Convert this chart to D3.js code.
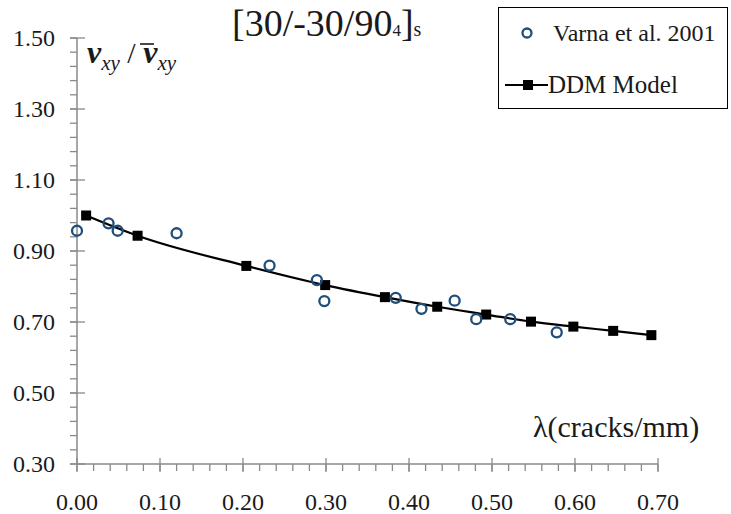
<!DOCTYPE html>
<html><head><meta charset="utf-8">
<script src="https://cdn.jsdelivr.net/npm/d3@7"></script>
<style>body{margin:0;background:#fff}svg{display:block}</style>
</head><body><svg id="c" width="731" height="514" font-family="'Liberation Serif', 'Times New Roman', Times, 'DejaVu Serif', serif"></svg>
<script>
// Data
const xTicks = [0.00, 0.10, 0.20, 0.30, 0.40, 0.50, 0.60, 0.70];
const yTicks = [0.30, 0.50, 0.70, 0.90, 1.10, 1.30, 1.50];
const varnaX = [0.000, 0.038, 0.049, 0.120, 0.232, 0.289, 0.298, 0.384, 0.415, 0.455, 0.481, 0.522, 0.578];
const varnaY = [0.957, 0.978, 0.957, 0.950, 0.859, 0.818, 0.759, 0.768, 0.737, 0.760, 0.708, 0.708, 0.671];
const ddmX = [0.011, 0.073, 0.204, 0.299, 0.371, 0.434, 0.493, 0.547, 0.598, 0.646, 0.692];
const ddmY = [1.000, 0.943, 0.858, 0.804, 0.770, 0.743, 0.721, 0.701, 0.687, 0.675, 0.663];
const seriesNames = ["Varna et al. 2001", "DDM Model"];

const svg = d3.select("#c");
const txtCol = "#1a1a1a";
const x = d3.scaleLinear().domain([0, 0.7]).range([77, 658]);
const y = d3.scaleLinear().domain([0.3, 1.5]).range([464, 38]);
const axisCol = "#8a8a8a";

// Y axis
const gy = svg.append("g");
gy.append("line").attr("x1", x(0)).attr("x2", x(0)).attr("y1", y(0.3)).attr("y2", y(1.5))
  .attr("stroke", axisCol).attr("stroke-width", 1.5);
const yMinor = d3.range(0.30, 1.5001, 0.04);
gy.selectAll(".ym").data(yMinor).join("line")
  .attr("x1", x(0) - 7).attr("x2", x(0)).attr("y1", d => y(d)).attr("y2", d => y(d))
  .attr("stroke", axisCol).attr("stroke-width", 1.3);
gy.selectAll(".yM").data(yTicks).join("line")
  .attr("x1", x(0) - 7).attr("x2", x(0) + 8).attr("y1", d => y(d)).attr("y2", d => y(d))
  .attr("stroke", axisCol).attr("stroke-width", 1.3);
gy.selectAll(".yl").data(yTicks).join("text")
  .attr("x", 55).attr("y", d => y(d)).attr("dy", "0.35em").attr("text-anchor", "end")
  .attr("fill", txtCol).attr("font-size", 24).text(d => d3.format(".2f")(d));

// X axis
const gx = svg.append("g");
gx.append("line").attr("x1", x(0)).attr("x2", x(0.7)).attr("y1", y(0.3)).attr("y2", y(0.3))
  .attr("stroke", axisCol).attr("stroke-width", 1.5);
const xMinor = d3.range(0, 0.7001, 0.02);
gx.selectAll(".xm").data(xMinor).join("line")
  .attr("x1", d => x(d)).attr("x2", d => x(d)).attr("y1", y(0.3)).attr("y2", y(0.3) + 7)
  .attr("stroke", axisCol).attr("stroke-width", 1.3);
gx.selectAll(".xM").data(xTicks).join("line")
  .attr("x1", d => x(d)).attr("x2", d => x(d)).attr("y1", y(0.3) - 6).attr("y2", y(0.3) + 8)
  .attr("stroke", axisCol).attr("stroke-width", 1.3);
gx.selectAll(".xl").data(xTicks).join("text")
  .attr("x", d => x(d)).attr("y", 510).attr("text-anchor", "middle")
  .attr("fill", txtCol).attr("font-size", 24).text(d => d3.format(".2f")(d));

// DDM line
const ddm = ddmX.map((v, i) => [v, ddmY[i]]);
svg.append("path").datum(ddm)
  .attr("d", d3.line().x(d => x(d[0])).y(d => y(d[1])).curve(d3.curveMonotoneX))
  .attr("fill", "none").attr("stroke", "#000").attr("stroke-width", 2.2);
svg.selectAll(".sq").data(ddm).join("rect")
  .attr("x", d => x(d[0]) - 5).attr("y", d => y(d[1]) - 5).attr("width", 10).attr("height", 10)
  .attr("fill", "#000");

// Varna points
const varna = varnaX.map((v, i) => [v, varnaY[i]]);
svg.selectAll(".ci").data(varna).join("circle")
  .attr("cx", d => x(d[0])).attr("cy", d => y(d[1])).attr("r", 5)
  .attr("fill", "none").attr("stroke", "#1f4e79").attr("stroke-width", 2.3);

// Title
const t = svg.append("text").attr("x", 232).attr("y", 36).attr("font-size", 38).attr("fill", txtCol);
t.append("tspan").text("[30/-30/90");
t.append("tspan").attr("font-size", 17).text("4");
t.append("tspan").text("]");
t.append("tspan").attr("font-size", 20).text("s");

// Y label
const yl = svg.append("text").attr("x", 87).attr("y", 63).attr("fill", txtCol).attr("font-style", "italic").attr("font-weight", "bold");
yl.append("tspan").attr("font-size", 32).text("v");
yl.append("tspan").attr("font-size", 21).attr("dy", 7).attr("font-weight", "normal").text("xy");
yl.append("tspan").attr("font-size", 30).attr("dy", -7).attr("font-weight", "normal").attr("font-style", "normal").text(" / ");
yl.append("tspan").attr("font-size", 32).text("v");
yl.append("tspan").attr("font-size", 21).attr("dy", 7).attr("font-weight", "normal").text("xy");
svg.append("line").attr("x1", 140).attr("x2", 154).attr("y1", 44).attr("y2", 44).attr("stroke", txtCol).attr("stroke-width", 1.6);

// X label
svg.append("text").attr("x", 533).attr("y", 437).attr("font-size", 30).attr("fill", txtCol).text("λ(cracks/mm)");

// Legend
const lg = svg.append("g");
lg.append("rect").attr("x", 498.5).attr("y", 7.5).attr("width", 229).attr("height", 101)
  .attr("fill", "#fff").attr("stroke", "#000").attr("stroke-width", 1);
lg.append("circle").attr("cx", 527).attr("cy", 33).attr("r", 4.5)
  .attr("fill", "none").attr("stroke", "#1f4e79").attr("stroke-width", 2.3);
lg.append("text").attr("x", 553).attr("y", 41).attr("font-size", 24).attr("fill", txtCol).text(seriesNames[0]);
lg.append("line").attr("x1", 505).attr("x2", 548).attr("y1", 85).attr("y2", 85).attr("stroke", "#000").attr("stroke-width", 2.2);
lg.append("rect").attr("x", 523).attr("y", 80).attr("width", 10).attr("height", 10).attr("fill", "#000");
lg.append("text").attr("x", 548).attr("y", 93).attr("font-size", 25).attr("fill", txtCol).text(seriesNames[1]);
</script></body></html>
